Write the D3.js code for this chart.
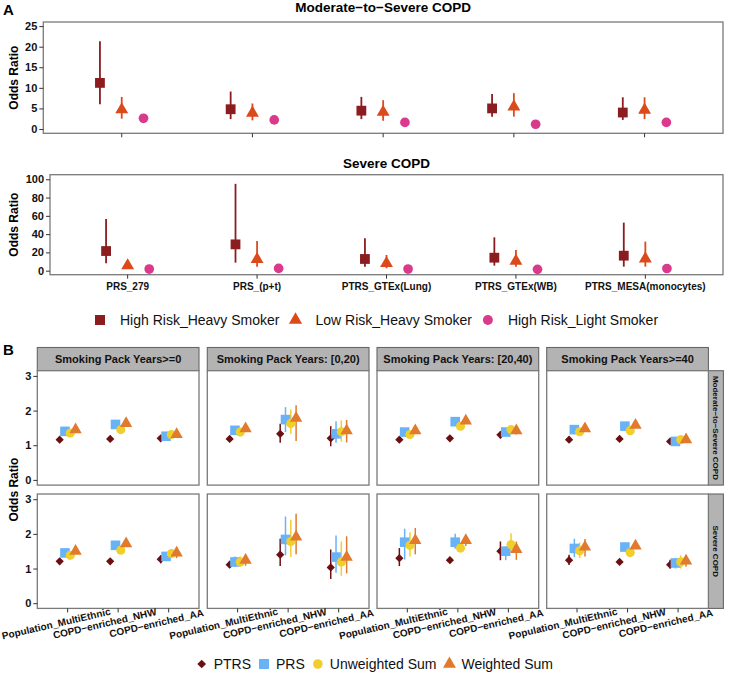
<!DOCTYPE html>
<html>
<head>
<meta charset="utf-8">
<script src="https://cdn.jsdelivr.net/npm/d3@7"></script>
<style>
body { margin: 0; background: #fff; }
svg { display: block; font-family: "Liberation Sans", Arial, sans-serif; }
</style>
</head>
<body>
<script>
// ---------------- Panel A data ----------------
const categoriesA = ["PRS_279", "PRS_(p+t)", "PTRS_GTEx(Lung)", "PTRS_GTEx(WB)", "PTRS_MESA(monocytes)"];
const groupsA = ["High Risk_Heavy Smoker", "Low Risk_Heavy Smoker", "High Risk_Light Smoker"];
// [category][group]
const modSevOR = [[11.2, 4.7, 2.6], [4.8, 3.9, 2.2], [4.45, 4.1, 1.6], [5.0, 5.4, 1.15], [4.0, 4.6, 1.6]];
const modSevLo = [[6.0, 2.5, 2.0], [2.4, 2.1, 1.7], [2.4, 2.0, 1.2], [3.0, 3.0, 0.8], [2.2, 2.4, 1.2]];
const modSevHi = [[21.3, 7.8, 3.2], [9.1, 6.2, 2.8], [7.8, 7.0, 2.1], [8.5, 8.7, 1.6], [7.7, 7.7, 2.1]];
const sevOR = [[21.5, 5.5, 1.8], [28.8, 12.4, 2.5], [12.8, 8.0, 1.8], [14.2, 10.6, 1.5], [16.4, 13.1, 2.4]];
const sevLo = [[8.0, 3.0, 0.8], [8.8, 4.4, 1.2], [4.4, 2.6, 0.8], [5.5, 4.4, 0.6], [4.4, 4.4, 1.2]];
const sevHi = [[56.6, 8.0, 3.0], [95.0, 32.5, 3.8], [35.4, 17.2, 3.0], [36.5, 22.6, 2.6], [52.6, 31.8, 3.6]];
const ticksA1 = [0, 5, 10, 15, 20, 25];
const ticksA2 = [0, 20, 40, 60, 80, 100];
const titlesA = ["Moderate\u2212to\u2212Severe COPD", "Severe COPD"];

// ---------------- Panel B data ----------------
const cohortsB = ["Population_MultiEthnic", "COPD\u2212enriched_NHW", "COPD\u2212enriched_AA"];
const packYearsB = ["Smoking Pack Years>=0", "Smoking Pack Years: [0,20)", "Smoking Pack Years: [20,40)", "Smoking Pack Years>=40"];
const outcomesB = ["Moderate\u2212to\u2212Severe COPD", "Severe COPD"];
const methodsB = ["PTRS", "PRS", "Unweighted Sum", "Weighted Sum"];
const ticksB = [0, 1, 2, 3];
// [packYear][cohort][method]
const orModSevB = [
  [[1.16, 1.40, 1.35, 1.45], [1.18, 1.60, 1.45, 1.63], [1.20, 1.26, 1.31, 1.31]],
  [[1.18, 1.43, 1.38, 1.48], [1.33, 1.74, 1.63, 1.78], [1.20, 1.33, 1.39, 1.42]],
  [[1.16, 1.38, 1.31, 1.42], [1.20, 1.68, 1.55, 1.70], [1.30, 1.38, 1.45, 1.42]],
  [[1.16, 1.45, 1.39, 1.48], [1.18, 1.55, 1.42, 1.58], [1.11, 1.11, 1.16, 1.16]]
];
const loModSevB = [
  [[1.10, 1.33, 1.29, 1.38], [1.12, 1.52, 1.38, 1.55], [1.12, 1.18, 1.22, 1.22]],
  [[1.10, 1.33, 1.29, 1.38], [1.07, 1.38, 1.33, 1.12], [0.97, 1.07, 1.10, 1.08]],
  [[1.10, 1.31, 1.25, 1.35], [1.14, 1.60, 1.48, 1.62], [1.20, 1.28, 1.33, 1.31]],
  [[1.10, 1.38, 1.33, 1.41], [1.12, 1.48, 1.36, 1.51], [1.05, 1.05, 1.09, 1.09]]
];
const hiModSevB = [
  [[1.22, 1.47, 1.41, 1.52], [1.24, 1.68, 1.52, 1.71], [1.28, 1.35, 1.40, 1.40]],
  [[1.26, 1.53, 1.47, 1.58], [1.62, 2.10, 2.03, 2.15], [1.55, 1.69, 1.72, 1.73]],
  [[1.22, 1.45, 1.37, 1.49], [1.26, 1.76, 1.62, 1.78], [1.40, 1.48, 1.58, 1.54]],
  [[1.22, 1.52, 1.45, 1.55], [1.24, 1.62, 1.48, 1.65], [1.17, 1.17, 1.23, 1.23]]
];
const orSevB = [
  [[1.21, 1.45, 1.38, 1.50], [1.21, 1.67, 1.53, 1.72], [1.27, 1.35, 1.43, 1.45]],
  [[1.11, 1.19, 1.19, 1.24], [1.40, 1.84, 1.78, 1.91], [1.03, 1.33, 1.19, 1.33]],
  [[1.30, 1.76, 1.67, 1.81], [1.24, 1.76, 1.59, 1.81], [1.50, 1.50, 1.69, 1.55]],
  [[1.24, 1.58, 1.51, 1.62], [1.19, 1.62, 1.46, 1.65], [1.11, 1.16, 1.19, 1.22]]
];
const loSevB = [
  [[1.15, 1.38, 1.32, 1.43], [1.15, 1.60, 1.47, 1.65], [1.15, 1.22, 1.30, 1.30]],
  [[1.02, 1.05, 1.05, 1.08], [1.07, 1.38, 1.33, 1.41], [0.70, 0.88, 0.79, 0.86]],
  [[1.07, 1.26, 1.35, 1.41], [1.18, 1.57, 1.50, 1.65], [1.24, 1.24, 1.48, 1.25]],
  [[1.10, 1.33, 1.30, 1.35], [1.13, 1.55, 1.40, 1.58], [1.00, 1.00, 1.00, 1.05]]
];
const hiSevB = [
  [[1.27, 1.52, 1.44, 1.57], [1.27, 1.74, 1.59, 1.79], [1.38, 1.48, 1.56, 1.60]],
  [[1.22, 1.35, 1.35, 1.40], [1.86, 2.50, 2.41, 2.58], [1.55, 1.95, 1.78, 1.93]],
  [[1.59, 2.15, 2.05, 2.17], [1.30, 2.00, 1.70, 1.95], [1.78, 1.64, 2.02, 1.78]],
  [[1.40, 1.86, 1.75, 1.85], [1.25, 1.69, 1.52, 1.72], [1.25, 1.30, 1.38, 1.38]]
];

// ---------------- styles ----------------
const colA = ["#8b1c1f", "#dc4a1c", "#d93a8c"];
const colB = ["#6b0f10", "#68b2f8", "#f0cf2c", "#e27a2e"];
const FONT = '"Liberation Sans", Arial, sans-serif';
const border = "#7a7a7a";

const svg = d3.select("body").append("svg").attr("width", 729).attr("height", 676);

function symbolPath(kind, size) {
  if (kind === "square") return d3.symbol(d3.symbolSquare, size)();
  if (kind === "triangle") return d3.symbol(d3.symbolTriangle, size)();
  if (kind === "circle") return d3.symbol(d3.symbolCircle, size)();
  if (kind === "diamond") return d3.symbol(d3.symbolSquare, size)();
}
const shapesA = ["square", "triangle", "circle"];
const sizesA = [96, 72, 74];
const shapesB = ["diamond", "square", "circle", "triangle"];
const sizesB = [34, 92, 66, 66];

function drawMark(g, kind, size, x, y, color) {
  g.append("path")
    .attr("d", symbolPath(kind, size))
    .attr("transform", `translate(${x},${y})` + (kind === "diamond" ? " rotate(45)" : ""))
    .attr("fill", color);
}

// Panel labels
svg.append("text").attr("x", 3).attr("y", 15).attr("font-size", 15).attr("font-weight", "bold").text("A");
svg.append("text").attr("x", 3).attr("y", 355).attr("font-size", 15).attr("font-weight", "bold").text("B");

// ---------------- Panel A ----------------
const panelsA = [
  {left: 43.3, right: 723, top: 22, bottom: 133.3, domain: [-1.05, 26], ticks: ticksA1, or: modSevOR, lo: modSevLo, hi: modSevHi, titleY: 12, xlabels: false},
  {left: 50, right: 723, top: 174.7, bottom: 274.7, domain: [-4.4, 105], ticks: ticksA2, or: sevOR, lo: sevLo, hi: sevHi, titleY: 168, xlabels: true}
];
panelsA.forEach((p, pi) => {
  const g = svg.append("g");
  const x = d3.scaleBand().domain(categoriesA).range([p.left, p.right]).paddingOuter(0.1).paddingInner(0);
  const xc = c => x(c) + x.bandwidth() / 2;
  const y = d3.scaleLinear().domain(p.domain).range([p.bottom, p.top]);
  const xd = d3.scaleBand().domain(groupsA).range([-x.bandwidth() * 0.25, x.bandwidth() * 0.25]);
  const off = gname => xd(gname) + xd.bandwidth() / 2;

  g.append("rect").attr("x", p.left).attr("y", p.top).attr("width", p.right - p.left).attr("height", p.bottom - p.top)
    .attr("fill", "#fff").attr("stroke", border).attr("stroke-width", 1.3);

  // y axis
  const ya = g.append("g").attr("transform", `translate(${p.left},0)`)
    .call(d3.axisLeft(y).tickValues(p.ticks).tickFormat(d3.format("d")).tickSize(4).tickPadding(2));
  ya.select(".domain").remove();
  ya.selectAll("line").attr("stroke", "#333");
  ya.selectAll("text").attr("font-size", 11).attr("font-weight", "bold").attr("font-family", FONT).attr("fill", "#111");

  // x axis
  const xa = g.append("g").attr("transform", `translate(0,${p.bottom})`)
    .call(d3.axisBottom(x).tickSize(4).tickPadding(4));
  xa.select(".domain").remove();
  xa.selectAll("line").attr("stroke", "#333");
  if (p.xlabels) {
    xa.selectAll("text").attr("font-size", 10).attr("font-weight", "bold").attr("font-family", FONT).attr("fill", "#111");
  } else {
    xa.selectAll("text").remove();
  }

  // title
  svg.append("text").attr("x", (p.left + p.right) / 2).attr("y", p.titleY).attr("text-anchor", "middle")
    .attr("font-size", 13.5).attr("font-weight", "bold").text(titlesA[pi]);
  // y label
  svg.append("text").attr("transform", `translate(18,${(p.top + p.bottom) / 2}) rotate(-90)`)
    .attr("text-anchor", "middle").attr("font-size", 12).attr("font-weight", "bold").text("Odds Ratio");

  categoriesA.forEach((c, ci) => {
    groupsA.forEach((gname, gi) => {
      const px = xc(c) + off(gname);
      g.append("line").attr("x1", px).attr("x2", px).attr("y1", y(p.lo[ci][gi])).attr("y2", y(p.hi[ci][gi]))
        .attr("stroke", colA[gi]).attr("stroke-width", 1.8);
      drawMark(g, shapesA[gi], sizesA[gi], px, y(p.or[ci][gi]), colA[gi]);
    });
  });
});

// Legend A
(function () {
  const g = svg.append("g");
  let cx = 100;
  const cy = 320;
  groupsA.forEach((name, gi) => {
    drawMark(g, shapesA[gi], sizesA[gi] * 1.05, cx, cy, colA[gi]);
    const t = g.append("text").attr("x", cx + 20).attr("y", cy + 5).attr("font-size", 14).attr("fill", "#111").text(name);
    const w = t.node().getComputedTextLength();
    cx = cx + 20 + w + 16;
  });
})();

// ---------------- Panel B ----------------
const colLefts = [37.3, 207.3, 377, 546.7];
const colW = 161.7;
const rowTops = [370.7, 494];
const rowH = 114.4;
const stripTop = 347.5;
const rowData = [
  {or: orModSevB, lo: loModSevB, hi: hiModSevB},
  {or: orSevB, lo: loSevB, hi: hiSevB}
];

// column strips
packYearsB.forEach((py, pi) => {
  svg.append("rect").attr("x", colLefts[pi]).attr("y", stripTop).attr("width", colW).attr("height", rowTops[0] - stripTop)
    .attr("fill", "#b3b3b3").attr("stroke", "#666").attr("stroke-width", 1.1);
  svg.append("text").attr("x", colLefts[pi] + colW / 2).attr("y", (stripTop + rowTops[0]) / 2 + 4)
    .attr("text-anchor", "middle").attr("font-size", 11).attr("font-weight", "bold").attr("fill", "#111").text(py);
});
// row strips
outcomesB.forEach((o, ri) => {
  const sx = colLefts[3] + colW;
  svg.append("rect").attr("x", sx).attr("y", rowTops[ri]).attr("width", 15).attr("height", rowH)
    .attr("fill", "#b3b3b3").attr("stroke", "#666").attr("stroke-width", 1.1);
  svg.append("text").attr("transform", `translate(${sx + 7.5 - 2.8},${rowTops[ri] + rowH / 2}) rotate(90)`)
    .attr("text-anchor", "middle").attr("font-size", 8).attr("font-weight", "bold").attr("fill", "#111").text(o);
});

svg.append("text").attr("transform", `translate(18,${(rowTops[0] + rowTops[1] + rowH) / 2}) rotate(-90)`)
  .attr("text-anchor", "middle").attr("font-size", 12).attr("font-weight", "bold").text("Odds Ratio");

const ANG = 13;
outcomesB.forEach((o, ri) => {
  const top = rowTops[ri], bottom = rowTops[ri] + rowH;
  const y = d3.scaleLinear().domain([-0.15, 3.15]).range([bottom, top]);
  packYearsB.forEach((py, pi) => {
    const g = svg.append("g");
    const left = colLefts[pi], right = colLefts[pi] + colW;
    const x = d3.scaleBand().domain(cohortsB).range([left, right]).paddingOuter(0.1).paddingInner(0);
    const xc = c => x(c) + x.bandwidth() / 2;
    const xd = d3.scaleBand().domain(methodsB).range([-x.bandwidth() * 0.21, x.bandwidth() * 0.21]);
    const off = m => xd(m) + xd.bandwidth() / 2;

    g.append("rect").attr("x", left).attr("y", top).attr("width", colW).attr("height", rowH)
      .attr("fill", "#fff").attr("stroke", border).attr("stroke-width", 1.3);

    if (pi === 0) {
      const ya = g.append("g").attr("transform", `translate(${left},0)`)
        .call(d3.axisLeft(y).tickValues(ticksB).tickFormat(d3.format("d")).tickSize(4).tickPadding(2));
      ya.select(".domain").remove();
      ya.selectAll("line").attr("stroke", "#333");
      ya.selectAll("text").attr("font-size", 11).attr("font-weight", "bold").attr("font-family", FONT).attr("fill", "#111");
    }
    if (ri === 1) {
      const xa = g.append("g").attr("transform", `translate(0,${bottom})`)
        .call(d3.axisBottom(x).tickSize(4));
      xa.select(".domain").remove();
      xa.selectAll("line").attr("stroke", "#333");
      xa.selectAll("text").remove();
      cohortsB.forEach(c => {
        const t = g.append("text").attr("font-size", 10).attr("font-weight", "bold").attr("fill", "#111")
          .attr("text-anchor", "middle").text(c);
        const L = t.node().getComputedTextLength();
        const cosA = Math.cos(ANG * Math.PI / 180);
        const leftMost = xc(c) - 0.63 * L * cosA;
        const shift = Math.max(0, 2 - leftMost);
        t.attr("transform", `translate(${xc(c) + shift},${bottom + 12}) rotate(${-ANG})`)
          .attr("x", -0.13 * L).attr("dy", "0.35em");
      });
    }

    const d = rowData[ri];
    cohortsB.forEach((c, ci) => {
      methodsB.forEach((m, mi) => {
        const px = xc(c) + off(m);
        g.append("line").attr("x1", px).attr("x2", px)
          .attr("y1", y(d.lo[pi][ci][mi])).attr("y2", y(d.hi[pi][ci][mi]))
          .attr("stroke", colB[mi]).attr("stroke-width", 1.5);
      });
      methodsB.forEach((m, mi) => {
        const px = xc(c) + off(m);
        drawMark(g, shapesB[mi], sizesB[mi], px, y(d.or[pi][ci][mi]), colB[mi]);
      });
    });
  });
});

// Legend B
(function () {
  const g = svg.append("g");
  let cx = 201.7;
  const cy = 664;
  methodsB.forEach((name, mi) => {
    drawMark(g, shapesB[mi], sizesB[mi] * 1.1, cx, cy, colB[mi]);
    const t = g.append("text").attr("x", cx + 12).attr("y", cy + 5).attr("font-size", 14).attr("fill", "#111").text(name);
    const w = t.node().getComputedTextLength();
    cx = cx + 12 + w + 13;
  });
})();
</script>
</body>
</html>
